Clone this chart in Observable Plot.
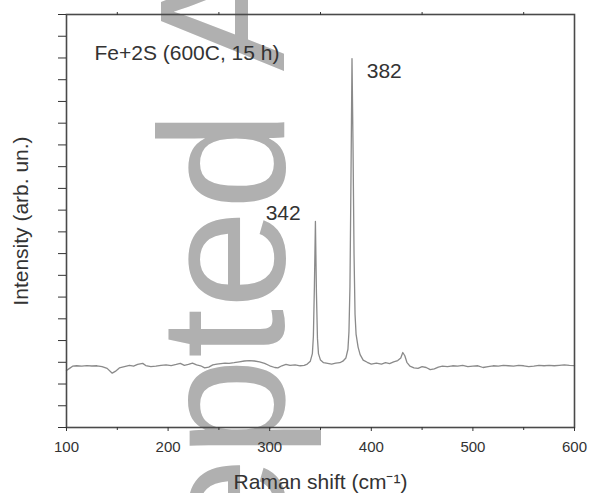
<!DOCTYPE html>
<html>
<head>
<meta charset="utf-8">
<script src="https://cdn.jsdelivr.net/npm/d3@7"></script>
<script src="https://cdn.jsdelivr.net/npm/@observablehq/plot@0.6"></script>
<style>
  html, body { margin: 0; padding: 0; background: #fff; }
  #wrap { position: relative; width: 592px; height: 493px; overflow: hidden; }
  #wm { position: absolute; left: 0; top: 0; }
  #chart { position: absolute; left: 0; top: 0; }
  #chart svg { display: block; }
</style>
</head>
<body>
<div id="wrap">
  <svg id="wm" width="592" height="493">
    <text transform="translate(284,853) rotate(-90)" font-family="Liberation Sans, Arial, sans-serif" font-size="178" fill="#b0b0b0">Accepted Article</text>
  </svg>
  <div id="chart"></div>
</div>
<script>
// Raman shift (cm^-1)
const ramanShift = [
  100,103,106,110,115,120,125,130,135,140,145,148,152,157,162,166,170,175,178,183,
  188,193,198,203,208,212,216,220,224,228,232,236,240,244,248,252,256,260,265,270,
  275,280,285,290,295,300,305,308,312,316,320,325,330,334,337,340,342,343,344,345,
  346,347,348,350,353,357,361,365,369,372,375,377,378,379,380,381,382,383,384,385,
  387,389,392,396,400,405,410,414,418,422,426,429,431,433,435,438,442,446,450,454,
  458,462,466,470,475,480,485,490,495,500,505,510,515,520,525,530,535,540,545,550,
  555,560,565,570,575,580,585,590,595,600
];
// Intensity (arb. un.)
const intensity = [
  2.62,2.72,2.82,2.84,2.82,2.85,2.83,2.84,2.80,2.72,2.50,2.58,2.74,2.80,2.86,2.82,2.90,2.95,2.85,2.80,
  2.82,2.86,2.88,2.85,2.90,2.95,2.86,2.90,2.96,2.88,2.84,2.74,2.78,2.88,2.92,2.94,2.96,2.95,2.98,3.02,
  3.06,3.08,3.06,3.02,2.95,2.84,2.76,2.74,2.84,2.90,2.86,2.88,2.84,2.86,2.92,3.05,3.40,4.20,6.50,9.48,
  6.20,4.10,3.40,3.10,2.98,2.95,2.92,2.96,2.98,3.05,3.20,3.60,4.40,6.50,11.5,16.97,13.0,8.00,5.20,4.30,
  3.70,3.35,3.10,3.00,2.92,2.96,2.92,2.98,2.94,3.02,3.08,3.20,3.45,3.30,3.00,2.82,2.74,2.72,2.80,2.76,
  2.66,2.70,2.78,2.82,2.80,2.84,2.82,2.86,2.80,2.82,2.84,2.76,2.80,2.84,2.82,2.86,2.84,2.82,2.86,2.84,
  2.80,2.82,2.86,2.84,2.86,2.84,2.86,2.88,2.86,2.85
];
const xTickValues = [100, 200, 300, 400, 500, 600];
const xMinorTickValues = [150, 250, 350, 450, 550];
const yTickValues = d3.range(0, 20);
const annotationText = ["Fe+2S (600C, 15 h)", "342", "382"];
const annotationX = [127.5, 296, 395.5];
const annotationY = [17.2, 9.85, 16.4];

const spectrum = ramanShift.map((x, i) => ({x, y: intensity[i]}));
const annotations = annotationText.map((text, i) => ({text, x: annotationX[i], y: annotationY[i]}));

const font = "Liberation Sans, Arial, Helvetica, sans-serif";
const chart = Plot.plot({
  width: 592,
  height: 493,
  marginLeft: 66,
  marginRight: 18,
  marginTop: 14,
  marginBottom: 66,
  style: {background: "transparent", fontFamily: font, color: "#333"},
  x: {domain: [100, 600]},
  y: {domain: [0, 19]},
  marks: [
    Plot.line(spectrum, {x: "x", y: "y", stroke: "#8a8a8a", strokeWidth: 1.3}),
    Plot.frame({stroke: "#4a4a4a", strokeWidth: 1.6}),
    Plot.axisX({ticks: xTickValues, tickSize: 4, tickPadding: 10, fontSize: 15, stroke: "#333",
      label: "Raman shift (cm⁻¹)", labelAnchor: "center", labelOffset: 61, labelArrow: false}),
    Plot.axisX({ticks: xMinorTickValues, tickSize: 3, tickFormat: () => "", label: null, stroke: "#333"}),
    Plot.axisX({anchor: "top", ticks: xMinorTickValues, tickSize: 3, tickFormat: () => "", label: null, stroke: "#333"}),
    Plot.axisY({ticks: yTickValues, tickSize: 8, tickFormat: () => "", stroke: "#333",
      label: "Intensity (arb. un.)", labelAnchor: "center", labelOffset: 53, labelArrow: false}),
    Plot.text(annotations, {x: "x", y: "y", text: "text", textAnchor: "start", fontSize: 21, fill: "#333"})
  ]
});
// enlarge axis labels
chart.querySelectorAll('[aria-label="x-axis label"] text, [aria-label="y-axis label"] text').forEach(t => t.setAttribute("font-size", 21));
document.getElementById("chart").appendChild(chart);
</script>
</body>
</html>
